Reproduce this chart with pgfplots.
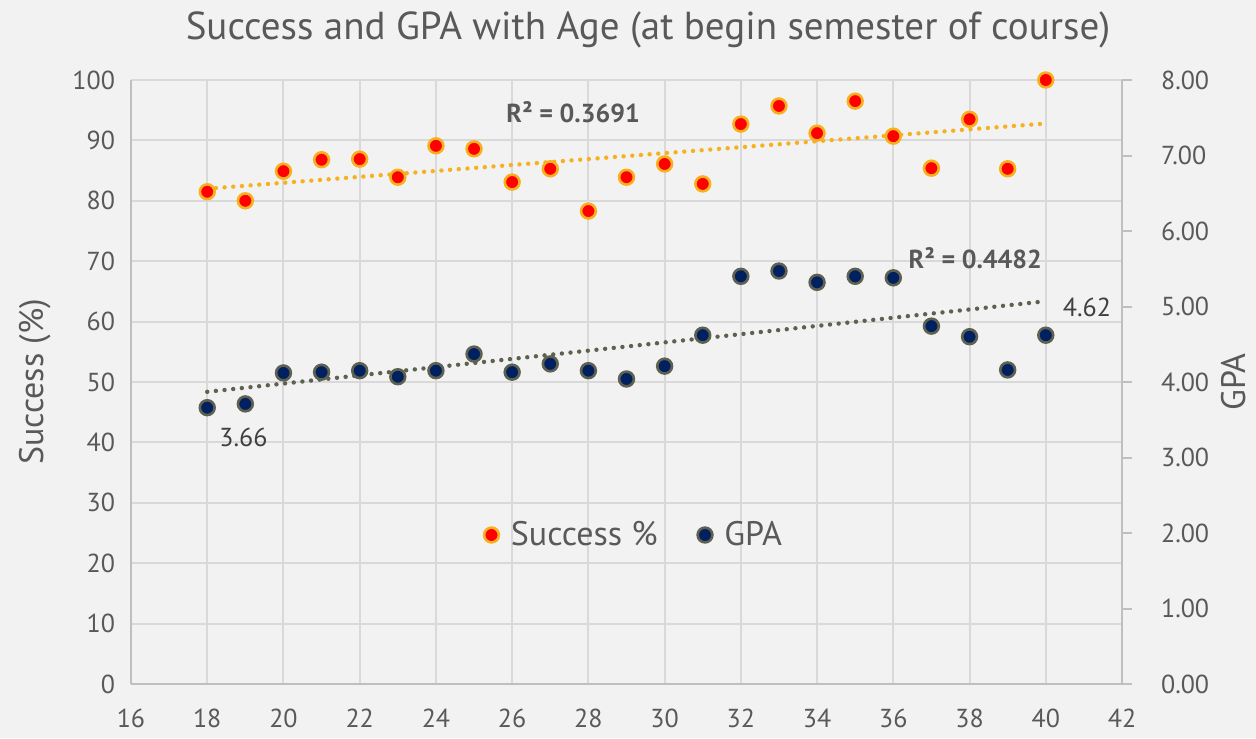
\documentclass[border=0pt]{standalone}
\usepackage{fontspec}
\setmainfont{PT Sans}
\usepackage{pgfplots}
\pgfplotsset{compat=1.18}
\definecolor{bg}{HTML}{F2F2F2}
\definecolor{txt}{HTML}{595959}
\definecolor{lbl}{HTML}{404040}
\definecolor{gridc}{HTML}{D9D9D9}
\definecolor{axc}{HTML}{BFBFBF}
\definecolor{sucfill}{HTML}{FF0000}
\definecolor{sucedge}{HTML}{F7B11E}
\definecolor{gpafill}{HTML}{002060}
\definecolor{gpaedge}{HTML}{5E6150}

\begin{document}
\begin{tikzpicture}[font=\fontsize{13}{15}\selectfont]
\fill[bg] (-65.5pt,-27pt) rectangle (562.5pt,342pt);
\node[txt, font=\fontsize{19.5}{22}\selectfont] at (258.5pt,327pt) {Success and GPA with Age (at begin semester of course)};

% left axis: success
\begin{axis}[
  at={(0,0)}, anchor=south west,
  scale only axis, width=495.5pt, height=302pt,
  xmin=16, xmax=42, ymin=0, ymax=100,
  xtick={16,18,...,42}, ytick={0,10,...,100},
  axis lines*=left,
  axis line style={axc, line width=1pt},
  grid=major, grid style={gridc, line width=1pt},
  major tick length=0pt,
  /pgf/number format/assume math mode=true,
  tick label style={txt},
  xticklabel style={yshift=-9pt},
  yticklabel style={xshift=-4.5pt},
  ylabel={Success (\%)},
  ylabel style={at={(axis description cs:-0.0969,0.5)}, anchor=center, txt, font=\fontsize{17}{20}\selectfont},
  legend style={at={(0.5086,0.2467)}, anchor=center, draw=none, fill=none,
    legend columns=2, font=\fontsize{17}{20}\selectfont, text=txt,
    /tikz/every even column/.append style={column sep=18pt}},
  legend cell align=left,
]
\addplot[only marks, mark=*, mark size=3.7pt, draw=sucedge, fill=sucfill, line width=1.3pt]
coordinates {(18,81.5) (19,80.0) (20,84.9) (21,86.8) (22,86.9) (23,83.9) (24,89.1) (25,88.6)
 (26,83.1) (27,85.3) (28,78.3) (29,83.9) (30,86.1) (31,82.8) (32,92.7) (33,95.7) (34,91.2)
 (35,96.5) (36,90.7) (37,85.4) (38,93.5) (39,85.3) (40,100.0)};
\addlegendentry{\hspace{4pt}Success \%}
\addlegendimage{only marks, mark=*, mark size=3.7pt, draw=gpaedge, fill=gpafill, line width=1.3pt}
\addlegendentry{\hspace{4pt}GPA}
\addplot[forget plot, sucedge, line width=2.2pt, line cap=round, dash pattern=on 0pt off 4.35pt]
coordinates {(18,82.0) (40,92.8)};
\node[txt, font=\bfseries\fontsize{13}{15}\selectfont] at (axis cs:27.6,94.7) {R² = 0.3691};
\node[txt, font=\bfseries\fontsize{13}{15}\selectfont] at (axis cs:38.15,70.5) {R² = 0.4482};
\node[lbl] at (axis cs:18.95,40.9) {3.66};
\node[lbl] at (axis cs:41.08,62.3) {4.62};
\end{axis}

% right axis: GPA
\begin{axis}[
  at={(0,0)}, anchor=south west,
  scale only axis, width=495.5pt, height=302pt,
  xmin=16, xmax=42, ymin=0, ymax=8,
  axis x line=none, axis y line*=right,
  axis line style={axc, line width=1pt},
  ytick={0,1,...,8},
  tick align=outside, major tick length=5pt,
  major tick style={axc, line width=1pt},
  yticklabel={\hspace*{11pt}\pgfmathprintnumber[fixed,fixed zerofill,precision=2,assume math mode=true]{\tick}},
  yticklabel style={txt},
  ylabel={GPA},
  ylabel style={at={(axis description cs:1.113,0.5)}, anchor=center, txt, font=\fontsize{17}{20}\selectfont},
]
\addplot[only marks, mark=*, mark size=3.7pt, draw=gpaedge, fill=gpafill, line width=1.3pt]
coordinates {(18,3.66) (19,3.71) (20,4.12) (21,4.13) (22,4.15) (23,4.07) (24,4.15) (25,4.37)
 (26,4.13) (27,4.24) (28,4.15) (29,4.04) (30,4.21) (31,4.62) (32,5.40) (33,5.47) (34,5.32)
 (35,5.40) (36,5.38) (37,4.74) (38,4.60) (39,4.16) (40,4.62)};
\addplot[gpaedge, line width=2.2pt, line cap=round, dash pattern=on 0pt off 4.35pt]
coordinates {(18,3.87) (40,5.07)};
\end{axis}
\end{tikzpicture}
\end{document}
